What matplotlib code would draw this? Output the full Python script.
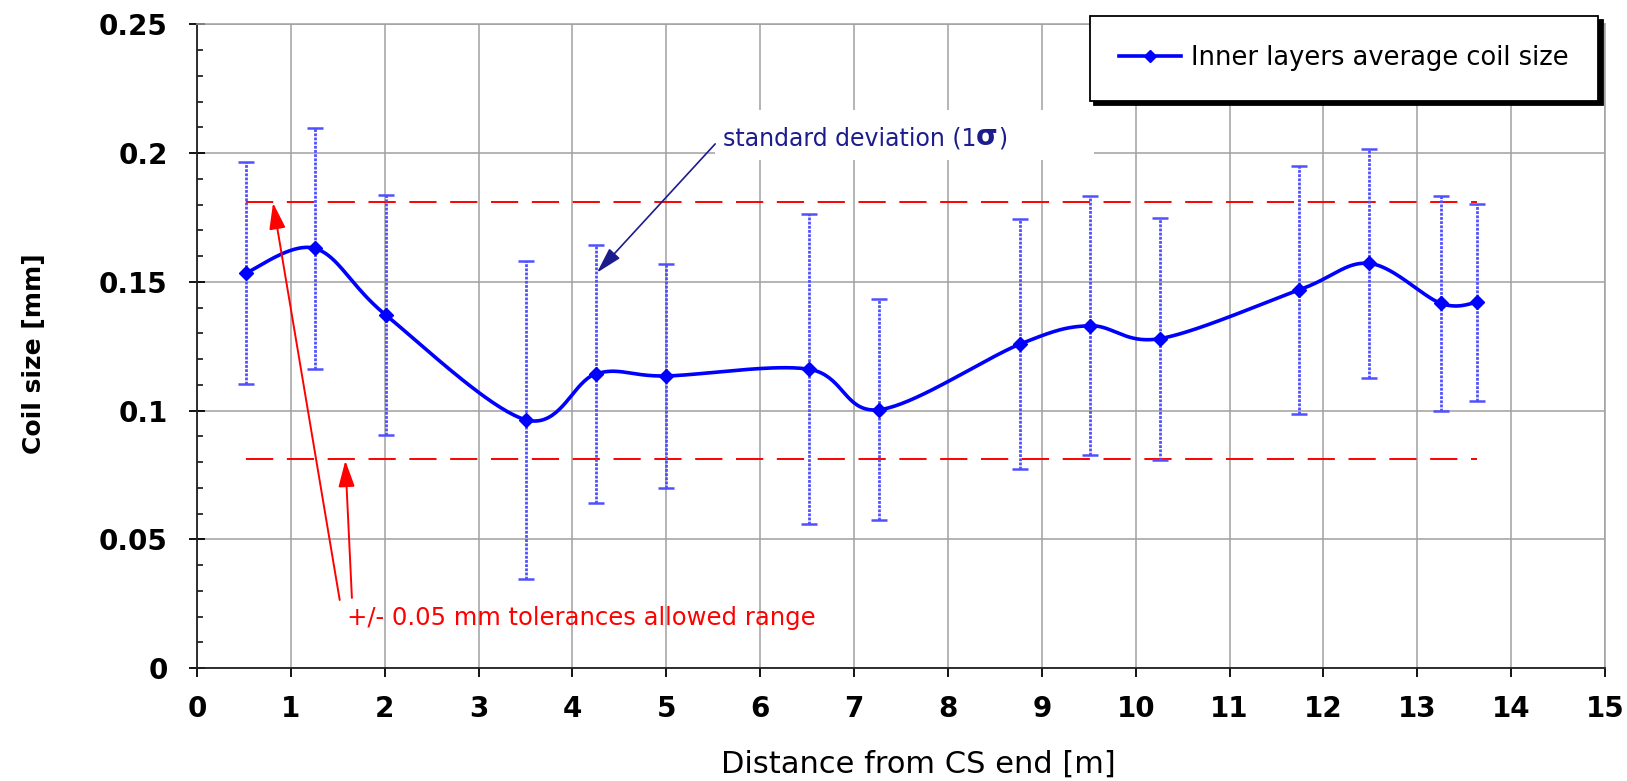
import numpy as np
import matplotlib.pyplot as plt
from matplotlib.lines import Line2D
from matplotlib.patches import Rectangle

# distance from CS end [m] and average inner-layer coil size [mm]
distance = [0.52, 1.26, 2.01, 3.50, 4.25, 5.00, 6.52, 7.27, 8.77, 9.51,
            10.26, 11.74, 12.49, 13.25, 13.64]
avg_size = [0.1535, 0.1630, 0.1372, 0.0965, 0.1143, 0.1135, 0.1161, 0.1004,
            0.1259, 0.1330, 0.1280, 0.1469, 0.1572, 0.1417, 0.1421]
# one standard deviation for each station
std_dev = [0.0431, 0.0467, 0.0465, 0.0617, 0.0502, 0.0436, 0.0602, 0.0430,
           0.0486, 0.0503, 0.0470, 0.0482, 0.0445, 0.0417, 0.0382]

# +/- 0.05 mm tolerance band
tol_upper = 0.181
tol_lower = 0.0813

x_ticks = list(range(0, 16))
y_ticks = [0, 0.05, 0.1, 0.15, 0.2, 0.25]
y_tick_labels = ['0', '0.05', '0.1', '0.15', '0.2', '0.25']


def smooth_curve(xs, ys, n=40):
    # excel-like smoothed line (bezier through the points)
    p = np.column_stack([xs, ys])
    p = np.vstack([p[0], p, p[-1]])
    t = np.linspace(0, 1, n)[:, None]
    parts = []
    for i in range(1, len(p) - 2):
        p0, p1, p2, p3 = p[i - 1], p[i], p[i + 1], p[i + 2]
        c1 = p1 + (p2 - p0) / 6
        c2 = p2 - (p3 - p1) / 6
        seg = ((1 - t) ** 3) * p1 + 3 * ((1 - t) ** 2) * t * c1 \
            + 3 * (1 - t) * t ** 2 * c2 + t ** 3 * p2
        parts.append(seg if i == 1 else seg[1:])
    out = np.vstack(parts)
    return out[:, 0], out[:, 1]


fig = plt.figure(figsize=(16.27, 7.81), dpi=100)
ax = fig.add_axes([0.1211, 0.1444, 0.8654, 0.8243])

ax.set_xlim(0, 15)
ax.set_ylim(0, 0.25)
ax.set_axisbelow(True)
ax.grid(True, which='major', color='#a0a0a0', lw=1.1)

for s in ['top', 'right']:
    ax.spines[s].set_color('#a0a0a0')
    ax.spines[s].set_linewidth(1.1)
for s in ['left', 'bottom']:
    ax.spines[s].set_color('#202020')
    ax.spines[s].set_linewidth(1.3)

ax.set_xticks(x_ticks)
ax.set_xticklabels([str(v) for v in x_ticks], fontweight='bold')
ax.set_yticks(y_ticks)
ax.set_yticklabels(y_tick_labels, fontweight='bold')
ax.set_yticks(np.arange(0, 0.2501, 0.01), minor=True)
ax.tick_params(axis='x', which='major', direction='out', length=6.5,
               width=1.3, pad=13, labelsize=20)
ax.tick_params(axis='y', which='major', direction='inout', length=12,
               width=1.3, pad=15, labelsize=20)
ax.tick_params(axis='y', which='minor', direction='in', length=4.5, width=1.1)

# white patch behind the std-dev note
ax.add_patch(Rectangle((5.52, 0.1974), 4.04, 0.0195, facecolor='white',
                       edgecolor='none', zorder=1.5))

# tolerance band
ax.hlines([tol_upper, tol_lower], distance[0], distance[-1], colors='#ff0000',
          lw=1.4, linestyles=(0, (14, 7)), zorder=2)

# error bars
eb = ax.errorbar(distance, avg_size, yerr=std_dev, fmt='none',
                 ecolor='#5050ff', elinewidth=2.0, capsize=6, capthick=1.8,
                 zorder=3)
eb[2][0].set_linestyle((0, (1, 0.5)))

sx, sy = smooth_curve(distance, avg_size)
ax.plot(sx, sy, color='#0000ff', lw=2.6, zorder=4)
ax.plot(distance, avg_size, 'D', color='#0000ff', ms=7, zorder=5)

ax.set_xlabel('Distance from CS end [m]', fontsize=22, va='bottom')
ax.xaxis.set_label_coords(0.512, -0.171)
ax.set_ylabel('Coil size [mm]', fontsize=18, fontweight='bold', va='center')
ax.yaxis.set_label_coords(-0.116, 0.489)

# annotations
navy = '#1c1c8c'
t1 = ax.text(5.60, 0.2056, 'standard deviation (1', color=navy, fontsize=17,
             va='center', zorder=6)
sig = ax.annotate('σ', xy=(1, 0), xycoords=t1, va='bottom', ha='left',
                  fontsize=20, fontweight='bold', color=navy, zorder=6)
ax.annotate(')', xy=(1, 0), xycoords=(sig, t1), va='bottom', ha='left',
            fontsize=17, color=navy, zorder=6)
ax.annotate('', xy=(4.26, 0.1536), xytext=(5.52, 0.2036),
            arrowprops=dict(arrowstyle='-|>,head_length=0.8,head_width=0.22',
                            color=navy, lw=1.2, shrinkA=0, shrinkB=0,
                            mutation_scale=20), zorder=6)

ax.text(1.60, 0.0195, '+/- 0.05 mm tolerances allowed range', color='#ff0000',
        fontsize=17.5, va='center', zorder=6)
ax.annotate('', xy=(0.81, 0.1807), xytext=(1.52, 0.0265),
            arrowprops=dict(arrowstyle='-|>,head_length=0.8,head_width=0.25',
                            color='#ff0000', lw=1.4, shrinkA=0, shrinkB=0,
                            mutation_scale=20), zorder=6)
ax.annotate('', xy=(1.58, 0.0806), xytext=(1.65, 0.0273),
            arrowprops=dict(arrowstyle='-|>,head_length=0.8,head_width=0.25',
                            color='#ff0000', lw=1.4, shrinkA=0, shrinkB=0,
                            mutation_scale=20), zorder=6)

proxy = Line2D([], [], color='#0000ff', lw=2.6, marker='D', ms=6)
leg = ax.legend(handles=[proxy], labels=['Inner layers average coil size'],
                loc='upper left', bbox_to_anchor=(0.634, 1.0137),
                borderaxespad=0, borderpad=1.15, handlelength=2.4,
                handletextpad=0.4, fancybox=False, framealpha=1,
                edgecolor='black', prop={'size': 18.5},
                shadow={'ox': 3, 'oy': -3, 'facecolor': 'black',
                        'edgecolor': 'black', 'alpha': 1})
leg.get_frame().set_linewidth(1.3)

fig.savefig('out.png', dpi=100)
